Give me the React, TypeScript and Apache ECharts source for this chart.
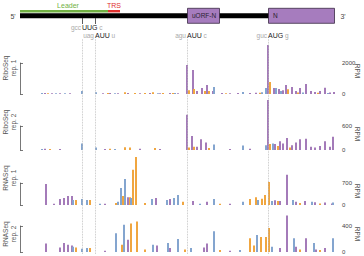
import React, { useEffect, useRef } from "react";
import * as echarts from "echarts";

type Pt = [number, number];

// sgRNA map, in map position units (0 = 5' end)
const MAP_END = 314;
const LEADER: [number, number] = [0, 88];
const TRS: [number, number] = [88, 100];
const UORF_N: [number, number] = [167, 199];
const N_ORF: [number, number] = [248, 314];

// start sites marked by dotted guides
const START_SITES = [
  { pos: 62, before: "gcc", codon: "UUG", after: "c", row: 0, tick: true },
  { pos: 75, before: "uag", codon: "AUU", after: "u", row: 1, tick: true },
  { pos: 167, before: "agu", codon: "AUU", after: "c", row: 1, tick: false },
  { pos: 248, before: "guc", codon: "AUG", after: "g", row: 1, tick: false },
];

// read density (RPM) per reading frame: [map position, RPM]
const riboRep1F0: Pt[] = [[25,60],[32,50],[40,50],[50,45],[83,50],[90,60],[98,50],[108,60],[120,50],[130,60],[140,50],[150,60],[158,50],[167,1870],[173,1550],[177,200],[182,390],[187,580],[193,190],[202,60],[210,50],[218,60],[230,60],[236,80],[248,3160],[254,390],[259,320],[263,250],[266,580],[272,450],[276,200],[280,390],[286,650],[291,200],[295,130],[300,200],[305,400],[310,100],[314,130]];
const riboRep1F1: Pt[] = [[28,50],[88,60],[105,120],[115,60],[125,60],[133,120],[143,60],[153,60],[169,250],[174,330],[185,200],[189,190],[206,50],[240,80],[250,780],[268,300],[278,100],[298,80]];
const riboRep1F2: Pt[] = [[22,60],[36,50],[45,50],[62,200],[76,120],[95,50],[138,50],[155,60],[194,450],[223,130],[242,120],[246,380],[256,390],[261,200],[283,100],[308,60]];

const riboRep2F0: Pt[] = [[25,30],[40,25],[85,25],[120,30],[140,25],[167,880],[172,350],[177,80],[181,270],[186,190],[210,25],[230,30],[248,1250],[255,150],[260,220],[263,160],[267,300],[272,120],[276,190],[280,270],[286,280],[291,80],[295,60],[300,100],[305,220],[310,80],[313,330]];
const riboRep2F1: Pt[] = [[30,25],[90,30],[105,70],[110,60],[135,50],[169,60],[174,80],[189,50],[250,150],[258,100],[270,60]];
const riboRep2F2: Pt[] = [[22,25],[62,160],[76,60],[95,25],[194,140],[223,110],[246,120],[253,160]];

const rnaRep1F0: Pt[] = [[26,670],[34,40],[40,190],[44,220],[48,290],[52,290],[85,40],[108,250],[136,220],[150,190],[173,130],[187,100],[210,40],[255,150],[260,130],[267,960],[276,100],[285,130],[295,90],[305,80],[312,50]];
const rnaRep1F1: Pt[] = [[56,160],[70,160],[96,60],[103,290],[110,250],[113,1120],[116,1530],[125,60],[163,100],[200,40],[230,190],[236,250],[242,200],[245,320],[249,730],[258,130],[280,60],[300,50]];
const rnaRep1F2: Pt[] = [[53,160],[62,190],[67,160],[80,40],[98,100],[101,540],[105,830],[111,220],[132,190],[147,160],[154,220],[158,320],[180,40],[194,190],[223,100],[238,160],[252,130],[273,160],[292,100],[313,80]];

const rnaRep2F0: Pt[] = [[26,130],[40,70],[44,140],[48,110],[52,100],[85,20],[108,190],[137,100],[150,60],[184,70],[187,130],[210,20],[260,60],[267,560],[276,80],[286,210],[296,40],[305,60]];
const rnaRep2F1: Pt[] = [[56,70],[70,60],[102,110],[111,440],[117,470],[125,40],[165,40],[200,30],[230,210],[234,100],[241,230],[246,230],[249,370],[280,40],[300,30]];
const rnaRep2F2: Pt[] = [[53,80],[62,50],[67,60],[96,290],[104,420],[133,110],[148,140],[158,200],[171,60],[194,320],[220,30],[237,260],[252,80],[274,210],[294,140],[313,210]];

const PANEL_NAMES = ["RiboSeq\nrep. 1", "RiboSeq\nrep. 2", "RNASeq\nrep. 1", "RNASeq\nrep. 2"];
const PANEL_TICKS = [2000, 600, 700, 400];
const PANEL_DATA: Pt[][][] = [
  [riboRep1F0, riboRep1F1, riboRep1F2],
  [riboRep2F0, riboRep2F1, riboRep2F2],
  [rnaRep1F0, rnaRep1F1, rnaRep1F2],
  [rnaRep2F0, rnaRep2F1, rnaRep2F2],
];

const FRAME_COLORS = ["#a47bb9", "#f0a640", "#84a5cf"];
const FONT = "Liberation Sans, Arial, sans-serif";

// vertical layout of the four track panels (axis top / baseline)
const PANEL_BOX = [
  { top: 63, bottom: 94 },
  { top: 126, bottom: 150 },
  { top: 183, bottom: 205 },
  { top: 226, bottom: 252 },
];
const LABEL_Y = [68, 122, 178, 234];
const PLOT_LEFT = 20;
const PLOT_WIDTH = 314;

function buildOption(): echarts.EChartsOption {
  const grids: any[] = [{ left: PLOT_LEFT, width: PLOT_WIDTH, top: 0, height: 44 }];
  const xAxes: any[] = [{ type: "value", gridIndex: 0, min: 0, max: MAP_END, show: false }];
  const yAxes: any[] = [{ type: "value", gridIndex: 0, min: 0, max: 44, inverse: true, show: false }];
  const series: any[] = [];

  PANEL_BOX.forEach((b, i) => {
    const gi = i + 1;
    grids.push({ left: PLOT_LEFT, width: PLOT_WIDTH, top: b.top, height: b.bottom - b.top });
    xAxes.push({ type: "value", gridIndex: gi, min: 0, max: MAP_END, show: false });
    yAxes.push({
      type: "value",
      gridIndex: gi,
      position: "right",
      offset: 6,
      min: 0,
      max: PANEL_TICKS[i],
      interval: PANEL_TICKS[i],
      axisLine: { show: true, lineStyle: { color: "#555", width: 0.8 } },
      axisTick: { show: true, length: 3, lineStyle: { color: "#555", width: 0.8 } },
      axisLabel: {
        fontSize: 6,
        color: "#444",
        margin: 2,
        fontFamily: FONT,
        formatter: (v: number) => String(v),
      },
      splitLine: { show: false },
    });
    PANEL_DATA[i].forEach((frame, f) => {
      series.push({
        type: "bar",
        xAxisIndex: gi,
        yAxisIndex: gi,
        data: frame,
        barWidth: 2,
        barGap: "-100%",
        clip: false,
        silent: true,
        z: 3,
        itemStyle: { color: FRAME_COLORS[f] },
      });
    });
  });

  // full-height grid carrying the dotted start-site guides
  const guideGrid = grids.length;
  grids.push({ left: PLOT_LEFT, width: PLOT_WIDTH, top: 39, height: 215 });
  xAxes.push({ type: "value", gridIndex: guideGrid, min: 0, max: MAP_END, show: false });
  yAxes.push({ type: "value", gridIndex: guideGrid, min: 0, max: 1, show: false });
  series.push({
    type: "line",
    xAxisIndex: guideGrid,
    yAxisIndex: guideGrid,
    data: [[0, 0]],
    showSymbol: false,
    lineStyle: { opacity: 0 },
    silent: true,
    z: 1,
    markLine: {
      symbol: ["none", "none"],
      silent: true,
      label: { show: false },
      lineStyle: { type: "dotted", color: "#b8b8b8", width: 0.8 },
      data: START_SITES.map((s) => ({ xAxis: s.pos })),
    },
  });

  // sgRNA map
  series.push({
    type: "custom",
    xAxisIndex: 0,
    yAxisIndex: 0,
    data: [[0, 0]],
    silent: true,
    clip: false,
    renderItem: (_params: any, api: any) => {
      const X = (p: number) => api.coord([p, 0])[0];
      const Y = (v: number) => api.coord([0, v])[1];
      const children: any[] = [];
      children.push({
        type: "rect",
        shape: { x: X(0), y: Y(13.3), width: X(MAP_END) - X(0), height: Y(18.3) - Y(13.3) },
        style: { fill: "#000" },
      });
      children.push({
        type: "rect",
        shape: { x: X(LEADER[0]), y: Y(10), width: X(LEADER[1]) - X(LEADER[0]), height: 2.4 },
        style: { fill: "#72b144" },
      });
      children.push({
        type: "rect",
        shape: { x: X(TRS[0]), y: Y(10), width: X(TRS[1]) - X(TRS[0]), height: 2.4 },
        style: { fill: "#e0302e" },
      });
      children.push({
        type: "text",
        x: (X(LEADER[0]) + X(LEADER[1])) / 2 + 4,
        y: Y(5),
        style: { text: "Leader", fill: "#72b144", fontSize: 7, fontFamily: FONT, align: "center", verticalAlign: "middle" },
      });
      children.push({
        type: "text",
        x: (X(TRS[0]) + X(TRS[1])) / 2,
        y: Y(5),
        style: { text: "TRS", fill: "#e0302e", fontSize: 7, fontFamily: FONT, align: "center", verticalAlign: "middle" },
      });
      [
        { r: UORF_N, name: "uORF-N" },
        { r: N_ORF, name: "N" },
      ].forEach(({ r, name }) => {
        children.push({
          type: "rect",
          shape: { x: X(r[0]) + 0.5, y: Y(8.3), width: X(r[1]) - X(r[0]), height: Y(23.3) - Y(8.3) },
          style: { fill: "#a67cbe", stroke: "#3a2a44", lineWidth: 0.8 },
        });
        children.push({
          type: "text",
          x: X(r[0]) + 5,
          y: Y(15.8),
          style: { text: name, fill: "#2a1f33", fontSize: 6.5, fontFamily: FONT, align: "left", verticalAlign: "middle" },
        });
      });
      children.push({
        type: "text",
        x: X(0) - 7,
        y: Y(16),
        style: { text: "5'", fill: "#444", fontSize: 7, fontFamily: FONT, align: "center", verticalAlign: "middle" },
      });
      children.push({
        type: "text",
        x: X(MAP_END) + 9,
        y: Y(16),
        style: { text: "3'", fill: "#444", fontSize: 7, fontFamily: FONT, align: "center", verticalAlign: "middle" },
      });
      START_SITES.forEach((s) => {
        const x = X(s.pos);
        const y = Y(s.row === 0 ? 27 : 35);
        if (s.tick) {
          children.push({
            type: "line",
            shape: { x1: x + 0.5, y1: Y(18), x2: x + 0.5, y2: Y(24) },
            style: { stroke: "#333", lineWidth: 0.8 },
          });
        }
        children.push({
          type: "text",
          x: x - 1,
          y,
          style: { text: s.before, fill: "#aaa", fontSize: 6.5, fontFamily: FONT, align: "right", verticalAlign: "middle" },
        });
        children.push({
          type: "text",
          x,
          y,
          style: {
            text: `{c|${s.codon}}{a| ${s.after}}`,
            fontFamily: FONT,
            align: "left",
            verticalAlign: "middle",
            rich: {
              c: { fill: "#222", fontSize: 7, fontFamily: FONT },
              a: { fill: "#aaa", fontSize: 6.5, fontFamily: FONT },
            },
          },
        });
      });
      return { type: "group", children };
    },
  });

  const graphic: any[] = [];
  PANEL_BOX.forEach((b, i) => {
    graphic.push({
      type: "text",
      x: 9,
      y: LABEL_Y[i],
      rotation: Math.PI / 2,
      style: {
        text: PANEL_NAMES[i],
        fill: "#555",
        fontSize: 6.5,
        fontFamily: FONT,
        align: "center",
        verticalAlign: "middle",
        lineHeight: 8,
      },
    });
    graphic.push({
      type: "text",
      x: 357,
      y: b.top + 8,
      rotation: -Math.PI / 2,
      style: { text: "RPM", fill: "#555", fontSize: 6.5, fontFamily: FONT, align: "center", verticalAlign: "middle" },
    });
  });

  return {
    animation: false,
    backgroundColor: "#fff",
    grid: grids,
    xAxis: xAxes,
    yAxis: yAxes,
    series,
    graphic,
  };
}

export default function App() {
  const ref = useRef<HTMLDivElement>(null);
  useEffect(() => {
    if (!ref.current) return;
    const chart = echarts.init(ref.current, undefined, { renderer: "svg" });
    chart.setOption(buildOption());
    return () => chart.dispose();
  }, []);
  return (
    <div
      ref={ref}
      style={{ position: "fixed", left: 0, top: 0, width: 364, height: 256, background: "#fff" }}
    />
  );
}
